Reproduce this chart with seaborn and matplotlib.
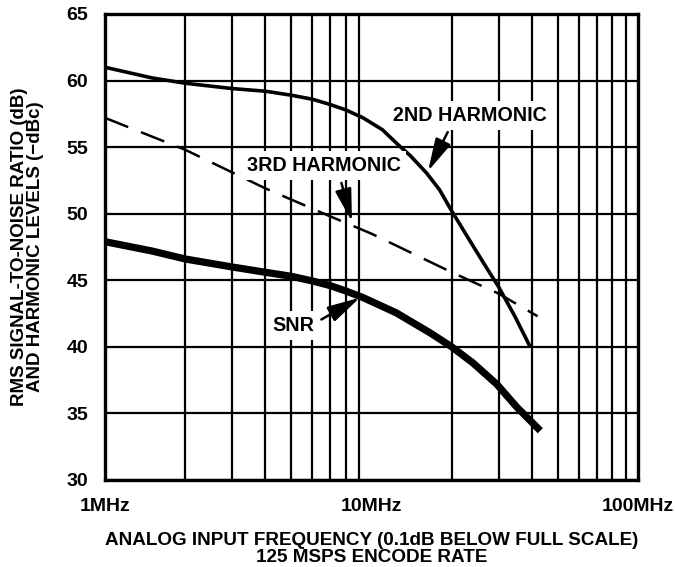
import numpy as np
import pandas as pd
import seaborn as sns
import matplotlib.pyplot as plt
from matplotlib.ticker import FixedLocator, NullFormatter

# values (frequency in MHz, level in dB / -dBc)
freq_2nd = [1, 1.5, 2, 3, 4, 5, 6, 7, 8, 9.3, 11, 12.4, 14, 16.1, 18, 20, 24.1, 27,
            29.9, 34.5, 39.4]
level_2nd = [61.0, 60.2, 59.8, 59.4, 59.2, 58.9, 58.6, 58.2, 57.8, 57.2, 56.3,
             55.3, 54.35, 53.05, 51.8, 50.2, 47.55, 45.95, 44.55, 42.3, 40.0]

freq_3rd = [1, 2, 4, 7, 10, 20, 30, 42]
level_3rd = [57.2, 54.8, 51.9, 49.8, 48.5, 45.6, 44.0, 42.3]

freq_snr = [1, 1.5, 2, 3, 4, 5, 6, 7, 8, 9.3, 12.4, 16.6, 20, 24, 29.5, 35, 43]
level_snr = [47.9, 47.2, 46.6, 46.0, 45.6, 45.3, 44.95, 44.6, 44.2, 43.7, 42.55,
             41.05, 40.0, 38.8, 37.2, 35.5, 33.7]

x_major = [1, 10, 100]
x_major_labels = ['1MHz', '10MHz', '100MHz']
x_minor = [2, 3, 4, 5, 6, 7, 8, 9, 20, 30, 40, 50, 60, 70, 80, 90]
y_ticks = [30, 35, 40, 45, 50, 55, 60, 65]

sns.set_theme(style='white')
plt.rcParams['font.family'] = ['Liberation Sans', 'DejaVu Sans']
plt.rcParams['font.weight'] = 'bold'
plt.rcParams['text.color'] = 'black'
plt.rcParams['axes.labelcolor'] = 'black'
plt.rcParams['xtick.color'] = 'black'
plt.rcParams['ytick.color'] = 'black'

fig = plt.figure(figsize=(6.75, 5.67), dpi=100)
ax = fig.add_axes([105 / 675, 1 - 480 / 567, 533 / 675, 466 / 567])

df2 = pd.DataFrame({'f': freq_2nd, 'v': level_2nd})
df3 = pd.DataFrame({'f': freq_3rd, 'v': level_3rd})
dfs = pd.DataFrame({'f': freq_snr, 'v': level_snr})

sns.lineplot(data=df2, x='f', y='v', ax=ax, color='black', lw=2.6,
             estimator=None, sort=False, zorder=4)
sns.lineplot(data=df3, x='f', y='v', ax=ax, color='black', lw=1.8,
             estimator=None, sort=False, zorder=4)
ax.lines[-1].set_dashes((10, 5.5))
sns.lineplot(data=dfs, x='f', y='v', ax=ax, color='black', lw=5.2,
             estimator=None, sort=False, zorder=4)
for ln in ax.lines:
    ln.set_solid_capstyle('butt')
    ln.set_solid_joinstyle('round')

ax.set_xscale('log')
ax.set_xlim(1, 100)
ax.set_ylim(30, 65)
ax.xaxis.set_major_locator(FixedLocator(x_major))
ax.set_xticklabels(x_major_labels)
ax.xaxis.set_minor_locator(FixedLocator(x_minor))
ax.xaxis.set_minor_formatter(NullFormatter())
ax.set_yticks(y_ticks)

ax.grid(False)
ax.grid(True, which='minor', axis='x', color='black', lw=1.6)
ax.grid(True, which='major', axis='y', color='black', lw=1.6)
ax.tick_params(which='both', length=0)
ax.tick_params(axis='y', labelsize=14, pad=12)
ax.tick_params(axis='x', labelsize=14, pad=13)
for s in ax.spines.values():
    s.set_color('black')
    s.set_linewidth(2.4)
    s.set_zorder(5)

ax.set_xlabel('ANALOG INPUT FREQUENCY (0.1dB BELOW FULL SCALE)\n125 MSPS ENCODE RATE',
              fontsize=13.6, fontweight='bold', linespacing=1.0)
ax.xaxis.set_label_coords(0.5, -0.112)
ax.xaxis.label.set_va('top')
ax.set_ylabel('RMS SIGNAL-TO-NOISE RATIO (dB)\nAND HARMONIC LEVELS (\u2212dBc)',
              fontsize=13.5, fontweight='bold', linespacing=0.95)
ax.yaxis.set_label_coords(-0.145, 0.5)
ax.yaxis.label.set_va('center')

box = dict(boxstyle='square,pad=0.25', fc='white', ec='none')
arrow = dict(arrowstyle='-|>,head_length=1.0,head_width=0.25', color='black',
             lw=1.8, mutation_scale=20, shrinkA=2, shrinkB=0)

ax.annotate('2ND HARMONIC', xy=(16.3, 53.2), xytext=(23.4, 57.4),
            ha='center', va='center', fontsize=14.2, fontweight='bold',
            bbox=box, zorder=6,
            arrowprops=dict(arrow, relpos=(0.38, 0)))
ax.annotate('3RD HARMONIC', xy=(8.45, 49.4), xytext=(6.63, 53.6),
            ha='center', va='center', fontsize=14.2, fontweight='bold',
            bbox=box, zorder=6,
            arrowprops=dict(arrow, relpos=(0.6, 0)))
ax.annotate('SNR', xy=(9.05, 43.7), xytext=(5.08, 41.6),
            ha='center', va='center', fontsize=14.2, fontweight='bold',
            bbox=box, zorder=6,
            arrowprops=dict(arrow, relpos=(1, 0.6)))

fig.savefig('out.png', dpi=100)
